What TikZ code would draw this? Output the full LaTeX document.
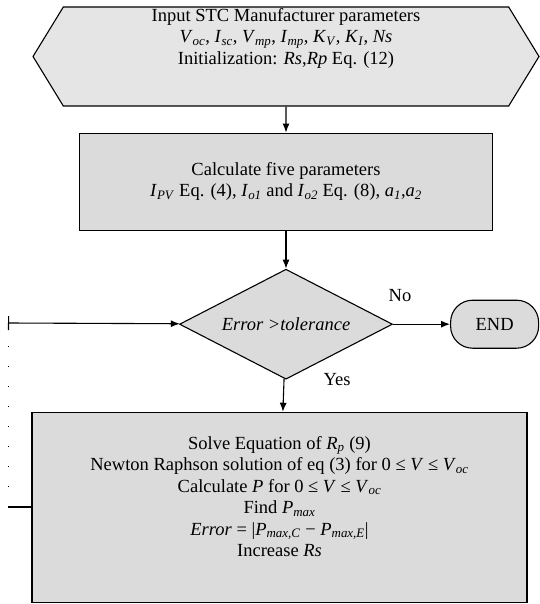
\documentclass[tikz,border=0pt]{standalone}
\usepackage{fontspec}
\setmainfont{Liberation Serif}
\usetikzlibrary{arrows.meta,positioning,shapes.geometric,shapes.symbols}
\newcommand\ivar[2]{\textit{#1}\textsubscript{\textit{#2}}}
\tikzset{
  blk/.style={draw, line width=1.1pt, fill=gray!28, align=center, inner sep=2pt,
    font=\fontsize{18.5}{21.5}\selectfont},
  inbox/.style={blk, signal, signal to=west and east, signal pointer angle=117,
    fill=gray!20, inner ysep=0pt, minimum width=506pt, minimum height=99pt},
  procbox/.style={blk, minimum width=413pt, minimum height=97pt},
  decide/.style={blk, diamond, aspect=1.94, inner sep=0pt, minimum width=213pt, minimum height=110pt},
  stopbox/.style={blk, rounded corners=22pt, minimum width=88pt, minimum height=48pt},
  arr/.style={-{Latex[length=9pt,width=7pt]}, line width=1.1pt},
  lbl/.style={font=\fontsize{18.5}{21.5}\selectfont}}

\begin{document}
\begin{tikzpicture}[x=1pt, y=-1pt, node distance=26pt]
  \useasboundingbox (0,0) rectangle (539,604);
  \node[inbox] (inp) at (286,56.5) {\parbox[c][97pt][t]{420pt}{\centering
    Input STC Manufacturer parameters\\
    \ivar{V}{oc}, \ivar{I}{sc}, \ivar{V}{mp}, \ivar{I}{mp}, \ivar{K}{V}, \ivar{K}{I}, \textit{Ns}\\
    Initialization: \textit{Rs},\textit{Rp} Eq. (12)}};
  \node[procbox, below=of inp] (five) {Calculate five parameters\\
    \ivar{I}{PV} Eq. (4), \ivar{I}{o1} and \ivar{I}{o2} Eq. (8), \ivar{a}{1},\ivar{a}{2}};
  \node[decide, below=38pt of five] (err) {\textit{Error >tolerance}};
  \node[stopbox, right=57pt of err] (fin) {END};
  \node[blk, below=32pt of err, xshift=-6.5pt, minimum width=495pt, minimum height=190pt] (loop)
    {Solve Equation of \ivar{R}{p} (9)\\
    Newton Raphson solution of eq (3) for 0 ≤ \textit{V} ≤ \ivar{V}{oc}\\
    Calculate \textit{P} for 0 ≤ \textit{V} ≤ \ivar{V}{oc}\\
    Find \ivar{P}{max}\\
    \textit{Error} = |\ivar{P}{max,C} − \ivar{P}{max,E}|\\
    Increase \textit{Rs}\\ ~};
  \draw[arr] (inp) -- (five);
  \draw[arr] (five) -- (err);
  \draw[arr] (err) -- (loop);
  \draw[arr] (err) -- (fin);
  \node[lbl] (no) at (400,296) {No};
  \node[lbl] (yes) at (337,380) {Yes};
  % back to the test
  \coordinate (retB) at (8,507);
  \coordinate (retT) at (8,323);
  \draw[line width=1.1pt] (loop.west |- retB) -- (retB);
  \draw[line width=1pt, dash pattern=on 1pt off 19pt] (retB) -- (retT);
  \draw[{Bar[width=14pt]}-{Latex[length=9pt,width=7pt]}, line width=1.1pt] (retT) -- (err);
\end{tikzpicture}
\end{document}
